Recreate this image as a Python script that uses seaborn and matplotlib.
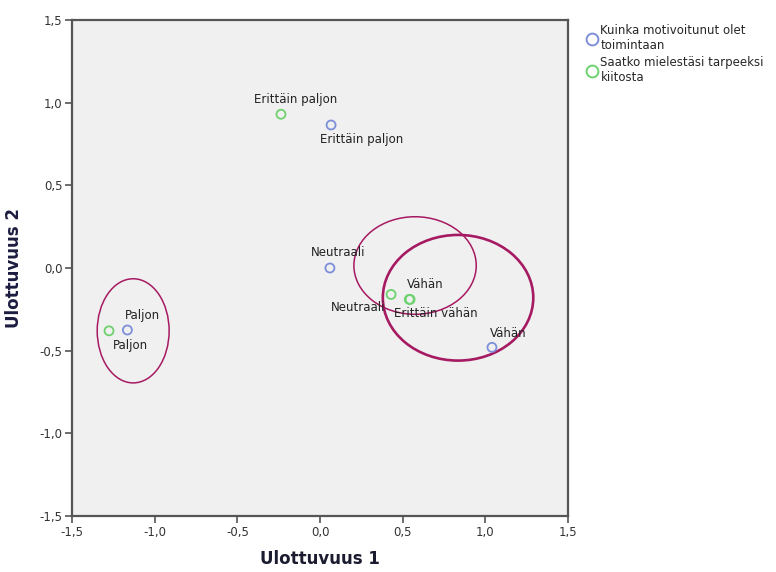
import matplotlib
matplotlib.use("Agg")
import matplotlib.pyplot as plt
from matplotlib.patches import Ellipse
from matplotlib.lines import Line2D
from matplotlib.ticker import FuncFormatter, MultipleLocator
import seaborn as sns
import pandas as pd

# Category points for the two questions (dimension 1, dimension 2)
motiv_labels = ["Erittäin paljon", "Paljon", "Neutraali", "Vähän"]
motiv_x = [0.067, -1.165, 0.06, 1.04]
motiv_y = [0.865, -0.375, 0.0, -0.48]

kiitos_labels = ["Erittäin paljon", "Paljon", "Neutraali", "Vähän", "Erittäin vähän"]
kiitos_x = [-0.236, -1.276, 0.43, 0.54, 0.545]
kiitos_y = [0.93, -0.38, -0.16, -0.19, -0.19]

series_names = ["Kuinka motivoitunut olet\ntoimintaan",
                "Saatko mielestäsi tarpeeksi\nkiitosta"]
series_colors = ["#7d8fd8", "#6ed26e"]

# Groupings drawn as ellipses: centre x, centre y, width, height, line width
ell_cx = [-1.13, 0.575, 0.835]
ell_cy = [-0.38, 0.015, -0.18]
ell_w = [0.435, 0.74, 0.91]
ell_h = [0.63, 0.59, 0.76]
ell_lw = [1.1, 1.1, 1.9]

# Label offsets in pixels relative to each point
motiv_off = [(31, -15), (15, 15), (8, 16), (16, 14)]
kiitos_off = [(15, 15), (21, -15), (-33, -13), (16, 15), (26, -14)]

df = pd.DataFrame({
    "x": motiv_x + kiitos_x,
    "y": motiv_y + kiitos_y,
    "label": motiv_labels + kiitos_labels,
    "series": [series_names[0]] * len(motiv_x) + [series_names[1]] * len(kiitos_x),
})

sns.set_style("ticks")
plt.rcParams["font.family"] = ["DejaVu Sans"]

fig = plt.figure(figsize=(7.76, 5.72), dpi=100)
ax = fig.add_axes([72 / 776, 1 - 516 / 572, 496 / 776, 496 / 572])
ax.set_facecolor("#f0f0f0")

sns.scatterplot(data=df, x="x", y="y", hue="series",
                palette=dict(zip(series_names, series_colors)),
                s=42, linewidth=1.3, legend=False, ax=ax, zorder=3)
# hollow markers: move the hue colour to the edge
for coll in ax.collections:
    fc = coll.get_facecolors()
    coll.set_edgecolors(fc)
    coll.set_facecolors("none")

for lab, x, y, off in zip(motiv_labels, motiv_x, motiv_y, motiv_off):
    ax.annotate(lab, (x, y), xytext=off, textcoords="offset pixels",
                ha="center", va="center", fontsize=8.5, color="#222222")
for lab, x, y, off in zip(kiitos_labels, kiitos_x, kiitos_y, kiitos_off):
    ax.annotate(lab, (x, y), xytext=off, textcoords="offset pixels",
                ha="center", va="center", fontsize=8.5, color="#222222")

for cx, cy, w, h, lw in zip(ell_cx, ell_cy, ell_w, ell_h, ell_lw):
    ax.add_patch(Ellipse((cx, cy), w, h, fill=False, edgecolor="#a61a62",
                         linewidth=lw, zorder=2))

ax.set_xlim(-1.5, 1.5)
ax.set_ylim(-1.5, 1.5)
ax.xaxis.set_major_locator(MultipleLocator(0.5))
ax.yaxis.set_major_locator(MultipleLocator(0.5))
fmt = FuncFormatter(lambda v, p: f"{v:.1f}".replace(".", ",").replace("−", "-"))
ax.xaxis.set_major_formatter(fmt)
ax.yaxis.set_major_formatter(fmt)
ax.tick_params(direction="out", length=5, width=1.2, color="#555555",
               labelsize=8.5, labelcolor="#333333", pad=2)
for sp in ax.spines.values():
    sp.set_color("#555555")
    sp.set_linewidth(1.6)

ax.set_xlabel("Ulottuvuus 1", fontsize=12, fontweight="bold", color="#1c1c30", labelpad=8)
ax.set_ylabel("Ulottuvuus 2", fontsize=12, fontweight="bold", color="#1c1c40", labelpad=12)

handles = [Line2D([], [], marker="o", linestyle="none", markersize=8.5,
                  markerfacecolor="none", markeredgecolor=c, markeredgewidth=1.4)
           for c in series_colors]
fig.legend(handles, series_names, loc="upper left", bbox_to_anchor=(581 / 776, 1 - 19 / 572),
           frameon=False, fontsize=8.5, handletextpad=0.15, labelspacing=0.35,
           handlelength=1.1, borderaxespad=0)

fig.savefig("out.png", dpi=100)
